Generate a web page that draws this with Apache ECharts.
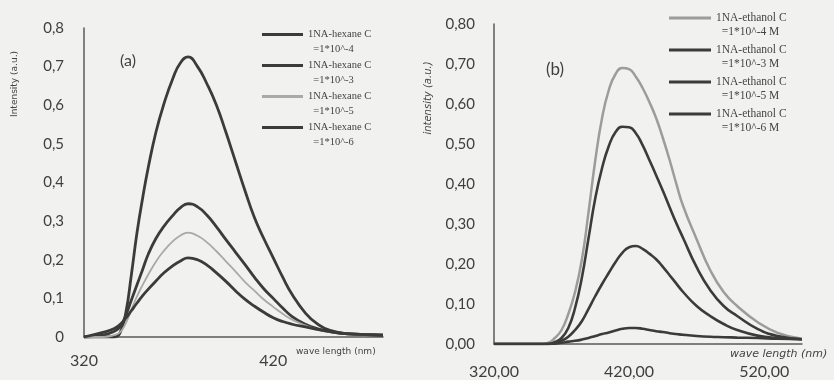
<!DOCTYPE html>
<html>
<head>
<meta charset="utf-8">
<script src="https://cdn.jsdelivr.net/npm/echarts@6/dist/echarts.min.js"></script>
<style>
  html, body { margin: 0; padding: 0; background: #f1f2ef; }
  #chart { width: 834px; height: 380px; }
</style>
</head>
<body>
<div id="chart"></div>
<script>
// (a) 1NA in hexane — wavelength grid (nm) and intensities (a.u.)
const wlA = [320, 330, 336, 339, 342, 345, 348, 351, 354, 358, 362, 367, 371, 375, 380, 385, 390, 395, 400, 405, 410, 415, 420, 425, 430, 437, 443, 450, 460, 478];
const hex4 = [0, 0, 0, 0.01, 0.06, 0.16, 0.27, 0.36, 0.44, 0.53, 0.60, 0.67, 0.71, 0.725, 0.70, 0.655, 0.60, 0.53, 0.455, 0.38, 0.31, 0.255, 0.205, 0.155, 0.11, 0.062, 0.035, 0.017, 0.008, 0.005];
const hex3 = [0, 0.005, 0.015, 0.026, 0.055, 0.095, 0.135, 0.175, 0.215, 0.255, 0.285, 0.315, 0.335, 0.345, 0.337, 0.315, 0.285, 0.252, 0.22, 0.188, 0.155, 0.125, 0.10, 0.075, 0.053, 0.033, 0.022, 0.014, 0.008, 0.005];
const hex5 = [0, 0, 0.005, 0.012, 0.035, 0.07, 0.105, 0.135, 0.162, 0.195, 0.222, 0.248, 0.263, 0.27, 0.262, 0.245, 0.222, 0.196, 0.17, 0.143, 0.12, 0.097, 0.078, 0.06, 0.045, 0.03, 0.02, 0.013, 0.008, 0.005];
const hex6 = [0, 0.012, 0.022, 0.032, 0.048, 0.068, 0.088, 0.107, 0.124, 0.145, 0.165, 0.185, 0.197, 0.205, 0.2, 0.186, 0.166, 0.144, 0.12, 0.098, 0.08, 0.064, 0.05, 0.04, 0.033, 0.026, 0.02, 0.014, 0.008, 0.005];

// (b) 1NA in ethanol
const wlB = [320, 355, 360, 365, 370, 375, 380, 385, 390, 395, 400, 405, 410, 415, 420, 425, 430, 435, 440, 445, 450, 455, 460, 470, 480, 490, 500, 515, 530, 548];
const eth4 = [0, 0, 0.003, 0.015, 0.035, 0.075, 0.13, 0.21, 0.33, 0.46, 0.565, 0.635, 0.675, 0.69, 0.687, 0.668, 0.64, 0.605, 0.565, 0.515, 0.46, 0.4, 0.345, 0.262, 0.185, 0.13, 0.095, 0.055, 0.028, 0.013];
const eth3 = [0, 0, 0, 0.005, 0.015, 0.04, 0.09, 0.165, 0.265, 0.365, 0.44, 0.495, 0.53, 0.543, 0.542, 0.527, 0.497, 0.46, 0.422, 0.383, 0.342, 0.302, 0.265, 0.192, 0.135, 0.095, 0.07, 0.038, 0.02, 0.012];
const eth5 = [0, 0, 0, 0.002, 0.008, 0.018, 0.035, 0.057, 0.088, 0.12, 0.15, 0.178, 0.205, 0.228, 0.242, 0.245, 0.238, 0.226, 0.212, 0.193, 0.172, 0.151, 0.13, 0.095, 0.07, 0.05, 0.035, 0.021, 0.015, 0.012];
const eth6 = [0, 0, 0, 0.001, 0.003, 0.006, 0.008, 0.011, 0.015, 0.02, 0.025, 0.029, 0.034, 0.038, 0.04, 0.04, 0.038, 0.035, 0.032, 0.03, 0.027, 0.025, 0.023, 0.02, 0.018, 0.017, 0.016, 0.015, 0.013, 0.012];

const namesA = ["1NA-hexane C\n=1*10^-4", "1NA-hexane C\n=1*10^-3", "1NA-hexane C\n=1*10^-5", "1NA-hexane C\n=1*10^-6"];
const namesB = ["1NA-ethanol C\n=1*10^-4 M", "1NA-ethanol C\n=1*10^-3 M", "1NA-ethanol C\n=1*10^-5 M", "1NA-ethanol C\n=1*10^-6 M"];

const DARK = "#3b3b3b";
const LIGHT = "#a9a9a9";
const AXIS = "#5a5a5a";
const LABEL = "#3f3f3f";

const pairs = (xs, ys) => xs.map((x, i) => [x, ys[i]]);

function line(name, idx, xs, ys, color, width) {
  return {
    name,
    type: "line",
    xAxisIndex: idx,
    yAxisIndex: idx,
    data: pairs(xs, ys),
    symbol: "none",
    smooth: 0.5,
    lineStyle: { color, width },
    itemStyle: { color },
  };
}

// legend text: blank first line so the swatch lines up with the first text line
const legendFmt = (name) => {
  const [a, b] = name.split("\n");
  return "\n" + a + "\n  " + b;
};

const chart = echarts.init(document.getElementById("chart"), null, { renderer: "canvas" });

chart.setOption({
  backgroundColor: "#f1f2ef",
  animation: false,
  grid: [
    { left: 84, top: 28, width: 299, height: 309 },
    { left: 494, top: 24, width: 308, height: 320 },
  ],
  legend: [
    {
      data: namesA,
      orient: "vertical",
      left: 262,
      top: 12,
      padding: 0,
      icon: "rect",
      itemWidth: 41,
      itemHeight: 3,
      itemGap: -14,
      formatter: legendFmt,
      textStyle: { fontFamily: "Liberation Serif", fontSize: 10.5, color: "#444", lineHeight: 15 },
    },
    {
      data: namesB,
      orient: "vertical",
      left: 669,
      top: -3,
      padding: 0,
      icon: "rect",
      itemWidth: 42,
      itemHeight: 3,
      itemGap: -10,
      formatter: legendFmt,
      textStyle: { fontFamily: "Liberation Serif", fontSize: 11.5, color: "#444", lineHeight: 14 },
    },
  ],
  xAxis: [
    {
      type: "value",
      gridIndex: 0,
      min: 320,
      max: 478,
      interval: 100,
      axisLine: { lineStyle: { color: AXIS, width: 1.5 } },
      axisTick: { show: false },
      splitLine: { show: false },
      axisLabel: { showMaxLabel: false, margin: 16, fontSize: 16, color: LABEL, fontFamily: "Lato" },
    },
    {
      type: "value",
      gridIndex: 1,
      min: 320,
      max: 548,
      interval: 100,
      axisLine: { lineStyle: { color: AXIS, width: 1.5 } },
      axisTick: { show: false },
      splitLine: { show: false },
      axisLabel: {
        showMaxLabel: false,
        margin: 20,
        fontSize: 16,
        color: LABEL,
        fontFamily: "Lato",
        formatter: (v) => v.toFixed(2).replace(".", ","),
      },
    },
  ],
  yAxis: [
    {
      type: "value",
      gridIndex: 0,
      min: 0,
      max: 0.8,
      interval: 0.1,
      axisLine: { show: true, lineStyle: { color: AXIS, width: 1.5 } },
      axisTick: { show: false },
      splitLine: { show: false },
      axisLabel: {
        margin: 20,
        fontSize: 15,
        color: LABEL,
        fontFamily: "Lato",
        formatter: (v) => (v === 0 ? "0" : v.toFixed(1).replace(".", ",")),
      },
    },
    {
      type: "value",
      gridIndex: 1,
      min: 0,
      max: 0.8,
      interval: 0.1,
      axisLine: { show: true, lineStyle: { color: AXIS, width: 1.5 } },
      axisTick: { show: false },
      splitLine: { show: false },
      axisLabel: {
        margin: 19,
        fontSize: 15,
        color: LABEL,
        fontFamily: "Lato",
        formatter: (v) => v.toFixed(2).replace(".", ","),
      },
    },
  ],
  graphic: [
    { type: "text", x: 128, y: 61, style: { text: "(a)", font: "16px Lato", fill: LABEL, textAlign: "center", textVerticalAlign: "middle" } },
    { type: "text", x: 555, y: 70, style: { text: "(b)", font: "17px Lato", fill: LABEL, textAlign: "center", textVerticalAlign: "middle" } },
    { type: "text", x: 15, y: 84, rotation: Math.PI / 2, style: { text: "Intensity (a.u.)", font: "9px 'DejaVu Sans'", fill: "#444", textAlign: "center", textVerticalAlign: "middle" } },
    { type: "text", x: 428, y: 98, rotation: Math.PI / 2, style: { text: "intensity (a.u.)", font: "italic 10px 'DejaVu Sans'", fill: "#444", textAlign: "center", textVerticalAlign: "middle" } },
    { type: "text", x: 296, y: 352, style: { text: "wave length (nm)", font: "9px 'DejaVu Sans'", fill: "#444", textAlign: "left", textVerticalAlign: "middle" } },
    { type: "text", x: 730, y: 354, style: { text: "wave length (nm)", font: "italic 11px 'DejaVu Sans'", fill: "#444", textAlign: "left", textVerticalAlign: "middle" } },
  ],
  series: [
    line(namesA[0], 0, wlA, hex4, DARK, 2.8),
    line(namesA[1], 0, wlA, hex3, DARK, 2.8),
    line(namesA[2], 0, wlA, hex5, LIGHT, 1.8),
    line(namesA[3], 0, wlA, hex6, DARK, 2.8),
    line(namesB[0], 1, wlB, eth4, "#9c9c9c", 2.5),
    line(namesB[1], 1, wlB, eth3, DARK, 2.6),
    line(namesB[2], 1, wlB, eth5, DARK, 2.6),
    line(namesB[3], 1, wlB, eth6, DARK, 2.6),
  ],
});
</script>
</body>
</html>
